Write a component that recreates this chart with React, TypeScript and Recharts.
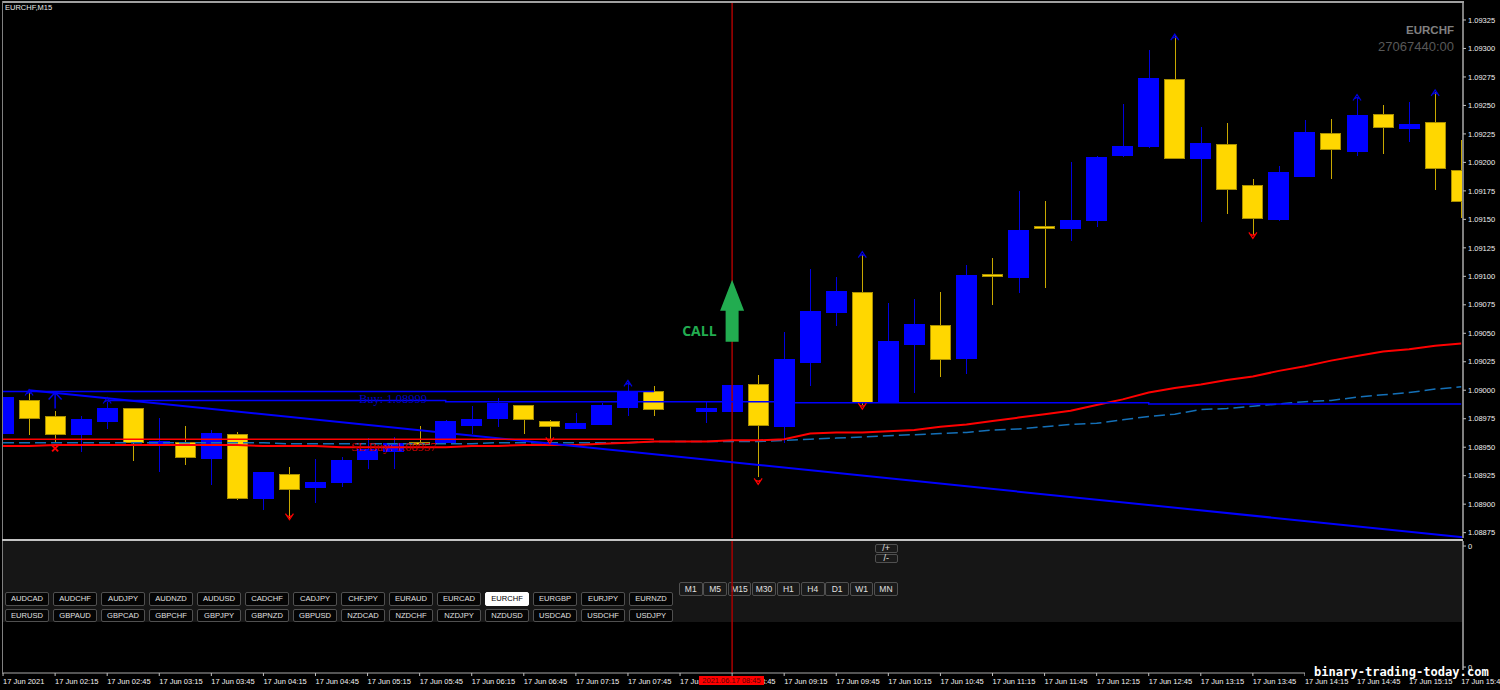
import React from 'react';
import { ComposedChart, Bar, Line, XAxis, YAxis, ReferenceLine, ReferenceDot } from 'recharts';

// one entry per 15 min candle, starting 17 Jun 01:45 (slot 26 has no candle)
const opens = [1.08962, 1.08991, 1.08977, 1.08961, 1.08973, 1.08984, 1.08954, 1.08954, 1.0894, 1.08961, 1.08905, 1.08926, 1.08915, 1.08919, 1.08939, 1.08946, 1.08954, 1.08954, 1.08969, 1.08975, 1.08987, 1.08973, 1.08966, 1.0897, 1.08985, 1.08999, null, 1.08981, 1.08981, 1.09005, 1.08968, 1.09024, 1.09068, 1.09086, 1.08989, 1.0904, 1.09057, 1.09028, 1.09102, 1.09099, 1.09144, 1.09142, 1.09149, 1.09206, 1.09214, 1.09273, 1.09203, 1.09216, 1.0918, 1.0915, 1.09188, 1.09225, 1.0921, 1.09242, 1.0923, 1.09235, 1.09193];
const closes = [1.08994, 1.08975, 1.08961, 1.08974, 1.08984, 1.08954, 1.08955, 1.08941, 1.08962, 1.08905, 1.08928, 1.08913, 1.08919, 1.08938, 1.08948, 1.08953, 1.08953, 1.08973, 1.08974, 1.08988, 1.08974, 1.08968, 1.08971, 1.08987, 1.08999, 1.08983, null, 1.08984, 1.09004, 1.08969, 1.09027, 1.09069, 1.09087, 1.08989, 1.09043, 1.09058, 1.09027, 1.09101, 1.091, 1.0914, 1.09142, 1.09149, 1.09204, 1.09214, 1.09274, 1.09203, 1.09217, 1.09176, 1.09151, 1.09191, 1.09226, 1.09211, 1.09241, 1.09231, 1.09233, 1.09195, 1.09166];
const highs = [1.08994, 1.09, 1.08982, 1.08977, 1.0899, 1.08984, 1.08976, 1.08969, 1.08965, 1.08963, 1.08928, 1.08933, 1.0894, 1.08941, 1.08958, 1.08959, 1.08969, 1.08974, 1.08986, 1.08993, 1.08987, 1.08974, 1.0898, 1.08989, 1.09007, 1.09004, null, 1.0899, 1.09004, 1.09013, 1.09051, 1.09106, 1.09099, 1.09119, 1.09077, 1.0908, 1.09086, 1.0911, 1.09116, 1.09175, 1.09166, 1.092, 1.09206, 1.09251, 1.09299, 1.09311, 1.09231, 1.09235, 1.09185, 1.09197, 1.09237, 1.09238, 1.09257, 1.0925, 1.09253, 1.09262, 1.0922];
const lows = [1.08962, 1.08961, 1.08954, 1.08946, 1.08966, 1.08938, 1.08928, 1.08934, 1.08917, 1.08904, 1.08895, 1.08888, 1.08901, 1.08915, 1.08931, 1.08931, 1.08952, 1.08954, 1.08962, 1.08968, 1.08962, 1.08956, 1.08966, 1.0897, 1.08977, 1.08977, null, 1.08971, 1.08981, 1.08924, 1.08954, 1.09004, 1.09056, 1.08987, 1.08989, 1.08998, 1.09012, 1.09014, 1.09075, 1.09085, 1.0909, 1.09131, 1.09143, 1.09205, 1.09213, 1.09203, 1.09148, 1.09155, 1.09136, 1.09149, 1.09187, 1.09185, 1.09206, 1.09207, 1.09218, 1.09176, 1.09151];

const redMa = [1.08951, 1.08951, 1.08952, 1.08952, 1.08952, 1.08952, 1.08952, 1.08952, 1.08952, 1.08952, 1.08951, 1.08951, 1.08951, 1.0895, 1.0895, 1.0895, 1.0895, 1.0895, 1.08951, 1.08951, 1.08952, 1.08952, 1.08952, 1.08953, 1.08954, 1.08955, 1.08955, 1.08955, 1.08956, 1.08956, 1.08957, 1.08962, 1.08963, 1.08963, 1.08964, 1.08965, 1.08968, 1.0897, 1.08973, 1.08976, 1.08979, 1.08982, 1.08987, 1.08992, 1.08998, 1.09002, 1.09005, 1.09009, 1.09012, 1.09017, 1.09021, 1.09026, 1.0903, 1.09034, 1.09036, 1.09039, 1.09041];
const dashedMa = [1.08954, 1.08954, 1.08954, 1.08954, 1.08954, 1.08954, 1.08954, 1.08954, 1.08954, 1.08954, 1.08954, 1.08953, 1.08953, 1.08953, 1.08953, 1.08953, 1.08953, 1.08953, 1.08953, 1.08954, 1.08954, 1.08954, 1.08954, 1.08954, 1.08954, 1.08955, 1.08955, 1.08955, 1.08955, 1.08955, 1.08956, 1.08957, 1.08958, 1.08959, 1.0896, 1.08961, 1.08962, 1.08963, 1.08965, 1.08966, 1.08968, 1.0897, 1.08971, 1.08974, 1.08977, 1.08979, 1.08983, 1.08984, 1.08986, 1.08988, 1.0899, 1.08991, 1.08994, 1.08996, 1.08998, 1.09001, 1.09003];
const entryLine = [null, null, null, null, 1.08991, 1.08991, 1.08991, 1.08991, 1.08991, 1.08991, 1.08991, 1.08991, 1.08991, 1.08991, 1.08991, 1.08991, 1.08991, 1.0899, 1.0899, 1.0899, 1.0899, 1.0899, 1.0899, 1.0899, 1.0899, 1.0899, 1.0899, 1.0899, 1.0899, 1.0899, 1.08989, 1.08989, 1.08989, 1.08989, 1.08989, 1.08989, 1.08989, 1.08989, 1.08989, 1.08989, 1.08989, 1.08989, 1.08989, 1.08989, 1.08988, 1.08988, 1.08988, 1.08988, 1.08988, 1.08988, 1.08988, 1.08988, 1.08988, 1.08988, 1.08988, 1.08988, 1.08988];

// [candle slot, price]
const upSignals = [[1, 1.08998], [4, 1.08991], [24, 1.09006], [33, 1.09119], [45, 1.0931], [52, 1.09257], [55, 1.09261]];
const downSignals = [[11, 1.08889], [21, 1.08956], [29, 1.0892], [33, 1.08986], [48, 1.09136]];
const bigUpSignal = [2, 1.08998];
const crossSignal = [2, 1.08949];
const callSignal = [28, 1.09097];

const trendFrom = [1, 1.09];
const trendTo = [56.07, 1.08871];
const buyLevel = 1.08999;
const slLevel = 1.08957;
const levelsEnd = 25;
const buyLabelAt = 13.67;
const slLabelAt = 13.37;
const crosshairSlot = 28;

const priceTicks = [1.08875, 1.089, 1.08925, 1.0895, 1.08975, 1.09, 1.09025, 1.0905, 1.09075, 1.091, 1.09125, 1.0915, 1.09175, 1.092, 1.09225, 1.0925, 1.09275, 1.093, 1.09325];
const priceDomain = [1.088703, 1.093408];
const slotDomain = [-0.04, 56.07];
const subTicks = [0.045, 0.962];

const timeLabels = ['17 Jun 2021', '17 Jun 02:15', '17 Jun 02:45', '17 Jun 03:15', '17 Jun 03:45', '17 Jun 04:15', '17 Jun 04:45', '17 Jun 05:15', '17 Jun 05:45', '17 Jun 06:15', '17 Jun 06:45', '17 Jun 07:15', '17 Jun 07:45', '17 Jun 08:15', '17 Jun 08:45', '17 Jun 09:15', '17 Jun 09:45', '17 Jun 10:15', '17 Jun 10:45', '17 Jun 11:15', '17 Jun 11:45', '17 Jun 12:15', '17 Jun 12:45', '17 Jun 13:15', '17 Jun 13:45', '17 Jun 14:15', '17 Jun 14:45', '17 Jun 15:15', '17 Jun 15:45'];
const timeTicks = timeLabels.map((_, i) => i * 2);

const symbolsTop = ['AUDCAD', 'AUDCHF', 'AUDJPY', 'AUDNZD', 'AUDUSD', 'CADCHF', 'CADJPY', 'CHFJPY', 'EURAUD', 'EURCAD', 'EURCHF', 'EURGBP', 'EURJPY', 'EURNZD'];
const symbolsBottom = ['EURUSD', 'GBPAUD', 'GBPCAD', 'GBPCHF', 'GBPJPY', 'GBPNZD', 'GBPUSD', 'NZDCAD', 'NZDCHF', 'NZDJPY', 'NZDUSD', 'USDCAD', 'USDCHF', 'USDJPY'];
const timeframes = ['M1', 'M5', 'M15', 'M30', 'H1', 'H4', 'D1', 'W1', 'MN'];

const tableData = opens.map((open, i) => ({
  slot: i,
  open,
  close: closes[i],
  high: highs[i],
  low: lows[i],
  range: open === null ? null : [lows[i], highs[i]],
  redMa: redMa[i],
  dashedMa: dashedMa[i],
  entry: entryLine[i],
  up: upSignals.find((s) => s[0] === i)?.[1] ?? null,
  down: downSignals.find((s) => s[0] === i)?.[1] ?? null,
  sub: 0,
}));

const GOLD = '#ffd700';
const BLUE = '#0000ff';
const TICK_FONT = '"Liberation Sans", Arial, sans-serif';

const Candle = (props: any) => {
  const { x, y, width, height, payload } = props;
  if (!payload || payload.open === null) return null;
  const { open, close, high, low } = payload;
  const perUnit = height / (high - low);
  const bodyTop = y + (high - Math.max(open, close)) * perUnit;
  const bodyH = Math.max(Math.abs(open - close) * perUnit, 2);
  const isUp = close >= open;
  const mid = Math.round(x + width / 2) + 0.5;
  return (
    <g shapeRendering="crispEdges">
      <line x1={mid} x2={mid} y1={y} y2={y + height} stroke={isUp ? '#0000e0' : '#c8a800'} strokeWidth={1} />
      <rect x={x} y={bodyTop} width={width} height={bodyH} fill={isUp ? BLUE : GOLD} stroke={isUp ? BLUE : '#a88e00'} strokeWidth={1} />
    </g>
  );
};

const UpArrow = (props: any) => {
  const { cx, cy, value } = props;
  if (value === null || value === undefined || cy == null) return null;
  return <path d={`M${cx - 4} ${cy + 3}L${cx} ${cy - 3}L${cx + 4} ${cy + 3}M${cx - 2} ${cy + 1}L${cx} ${cy}L${cx + 2} ${cy + 1}`} fill="none" stroke="#0000e0" strokeWidth={1.2} />;
};

const DownArrow = (props: any) => {
  const { cx, cy, value } = props;
  if (value === null || value === undefined || cy == null) return null;
  return <path d={`M${cx - 4} ${cy - 3}L${cx} ${cy + 3}L${cx + 4} ${cy - 3}M${cx - 2} ${cy - 1}L${cx} ${cy}L${cx + 2} ${cy - 1}`} fill="none" stroke="#ff0000" strokeWidth={1.2} />;
};

const BigUpArrow = ({ cx, cy }: any) => (
  <path d={`M${cx - 6.5} ${cy + 7}L${cx} ${cy}L${cx + 6.5} ${cy + 7}M${cx} ${cy}V${cy + 16}`} fill="none" stroke="#0000f0" strokeWidth={1.5} />
);

const CrossMark = ({ cx, cy }: any) => (
  <path d={`M${cx - 3} ${cy - 3}L${cx + 3} ${cy + 3}M${cx + 3} ${cy - 3}L${cx - 3} ${cy + 3}`} stroke="#ff0000" strokeWidth={2} />
);

const CallMark = ({ cx, cy }: any) => (
  <g>
    <path d={`M${cx} ${cy}L${cx + 12} ${cy + 31}H${cx + 6.5}V${cy + 62}H${cx - 6.5}V${cy + 31}H${cx - 12}Z`} fill="#22ac50" />
    <text x={cx - 15.5} y={cy + 56} textAnchor="end" fill="#22ac50" fontSize={14} fontWeight={700} fontFamily='"Open Sans", sans-serif'>CALL</text>
  </g>
);

const LevelLabel = ({ cx, cy, text, color, dy }: any) => (
  <text x={cx} y={cy + dy} fill={color} fontSize={12.5} fontFamily='"Liberation Serif", serif'>{text}</text>
);

const TimeTick = ({ x, y, payload }: any) => (
  <text x={x} y={y + 6} fill="#f0f0f0" fontSize={7.5} fontFamily={TICK_FONT}>
    {timeLabels[payload.value / 2]}
  </text>
);

const box = (left: number, top: number, width: number, height: number, background: string): React.CSSProperties => ({
  position: 'absolute', left, top, width, height, background,
});

const ChartButton = ({ label, left, top, width, height, active, bg, size = 7.6 }: any) => (
  <div
    style={{
      position: 'absolute', left, top, width, height, boxSizing: 'border-box',
      border: `1px solid ${active ? '#ffffff' : '#505050'}`, borderRadius: 2,
      background: active ? '#ffffff' : bg, color: active ? '#000' : '#e0e0e0',
      font: `${size}px ${TICK_FONT}`, lineHeight: `${height - 2}px`, textAlign: 'center',
    }}
  >
    {label}
  </div>
);

export default function App() {
  return (
    <div style={{ position: 'absolute', left: 0, top: 0, width: 1500, height: 690, overflow: 'hidden', background: '#000' }}>
      {/* sub window panel and its buttons sit under the crosshair */}
      <div style={box(2, 541, 1459.5, 81, '#161616')} />
      {symbolsTop.map((s, i) => (
        <ChartButton key={s} label={s} left={5.3 + i * 48} top={592} width={43.5} height={13.5} active={s === 'EURCHF'} bg="#050505" />
      ))}
      {symbolsBottom.map((s, i) => (
        <ChartButton key={s} label={s} left={5.3 + i * 48} top={608.5} width={43.5} height={13.5} bg="#050505" />
      ))}
      {timeframes.map((s, i) => (
        <ChartButton key={s} label={s} left={679 + i * 24.4} top={582} width={23.5} height={14} bg="#1a1a1a" size={8.5} />
      ))}
      <ChartButton label="/+" left={874.5} top={544} width={23.5} height={8.5} bg="#1a1a1a" size={9} />
      <ChartButton label="/-" left={874.5} top={554} width={23.5} height={8.5} bg="#1a1a1a" size={9} />

      <div style={{ position: 'absolute', left: 0, top: 0 }}>
        <ComposedChart width={1500} height={540} data={tableData} margin={{ top: 2, right: 0, bottom: 2, left: 2 }}>
          <XAxis dataKey="slot" type="number" domain={slotDomain} allowDataOverflow hide />
          <YAxis
            orientation="right"
            width={37}
            domain={priceDomain}
            ticks={priceTicks}
            interval={0}
            allowDataOverflow
            tickFormatter={(v: number) => v.toFixed(5)}
            tickSize={3}
            tickMargin={2}
            axisLine={{ stroke: '#808080', strokeWidth: 2 }}
            tickLine={{ stroke: '#c0c0c0' }}
            tick={{ fill: '#f0f0f0', fontSize: 7.5, fontFamily: TICK_FONT }}
          />
          <ReferenceLine x={crosshairSlot} stroke="#a80000" strokeWidth={1.5} />
          <Bar dataKey="range" barSize={20} shape={<Candle />} isAnimationActive={false} />
          <Line dataKey="dashedMa" stroke="#1470b8" strokeWidth={1.5} strokeDasharray="11 5" dot={false} isAnimationActive={false} />
          <Line dataKey="redMa" stroke="#ff0000" strokeWidth={2} dot={false} isAnimationActive={false} />
          <Line dataKey="entry" type="stepAfter" stroke={BLUE} strokeWidth={1.5} dot={false} isAnimationActive={false} />
          <ReferenceLine segment={[{ x: trendFrom[0], y: trendFrom[1] }, { x: trendTo[0], y: trendTo[1] }]} stroke={BLUE} strokeWidth={2} />
          <ReferenceLine segment={[{ x: slotDomain[0], y: buyLevel }, { x: levelsEnd, y: buyLevel }]} stroke={BLUE} strokeWidth={1.5} />
          <ReferenceLine segment={[{ x: slotDomain[0], y: slLevel }, { x: levelsEnd, y: slLevel }]} stroke="#ff0000" strokeWidth={1.5} />
          <Line dataKey="up" stroke="none" dot={<UpArrow />} isAnimationActive={false} />
          <Line dataKey="down" stroke="none" dot={<DownArrow />} isAnimationActive={false} />
          <ReferenceDot x={bigUpSignal[0]} y={bigUpSignal[1]} shape={<BigUpArrow />} />
          <ReferenceDot x={crossSignal[0]} y={crossSignal[1]} shape={<CrossMark />} />
          <ReferenceDot x={callSignal[0]} y={callSignal[1]} shape={<CallMark />} />
          <ReferenceDot x={buyLabelAt} y={buyLevel} shape={<LevelLabel text="Buy: 1.08999" color="#0000c8" dy={12} />} />
          <ReferenceDot x={slLabelAt} y={slLevel} shape={<LevelLabel text="SL Buy: 1.08957" color="#c80000" dy={12} />} />
        </ComposedChart>
      </div>

      <div style={{ position: 'absolute', left: 0, top: 540 }}>
        <ComposedChart width={1500} height={150} data={tableData} margin={{ top: 1, right: 0, bottom: 0, left: 2 }}>
          <XAxis
            dataKey="slot"
            type="number"
            domain={slotDomain}
            allowDataOverflow
            ticks={timeTicks}
            interval={0}
            height={17}
            tickSize={3}
            axisLine={{ stroke: '#a8a8a8' }}
            tickLine={{ stroke: '#c0c0c0' }}
            tick={<TimeTick />}
          />
          <YAxis
            orientation="right"
            width={37}
            domain={[0, 1]}
            allowDataOverflow
            ticks={subTicks}
            interval={0}
            tickFormatter={() => '0'}
            tickSize={3}
            tickMargin={2}
            axisLine={{ stroke: '#808080', strokeWidth: 2 }}
            tickLine={{ stroke: '#c0c0c0' }}
            tick={{ fill: '#f0f0f0', fontSize: 7.5, fontFamily: TICK_FONT }}
          />
          <Line dataKey="sub" stroke="none" dot={false} isAnimationActive={false} />
          <ReferenceLine x={crosshairSlot} stroke="#a80000" strokeWidth={1.5} />
        </ComposedChart>
      </div>

      {/* window frame */}
      <div style={box(1.5, 1, 1462, 1.5, '#a0a0a0')} />
      <div style={box(1.5, 1, 1.2, 672, '#808080')} />
      <div style={box(1.5, 538.7, 1461, 2.2, '#c4c4c4')} />

      {/* crosshair time tag covers the axis labels */}
      <div style={{ ...box(699, 676, 65, 9, '#ff0000'), color: '#5a0000', font: `7.5px ${TICK_FONT}`, lineHeight: '9px', textAlign: 'center' }}>2021.06.17 08:45</div>

      <div style={{ position: 'absolute', left: 5, top: 3, color: '#e8e8e8', font: `7.5px ${TICK_FONT}` }}>EURCHF,M15</div>
      <div style={{ position: 'absolute', right: 46, top: 24, color: '#808080', font: `bold 11.5px ${TICK_FONT}` }}>EURCHF</div>
      <div style={{ position: 'absolute', right: 46, top: 39, color: '#585858', font: `13px ${TICK_FONT}` }}>27067440:00</div>
      <div style={box(1305, 670, 186, 6.5, '#000')} />
      <div style={{ position: 'absolute', left: 1314, top: 665, color: '#fff', font: 'bold 12.1px "DejaVu Sans Mono", monospace', whiteSpace: 'nowrap', lineHeight: '14px' }}>
        binary-trading-today.com
      </div>
    </div>
  );
}
